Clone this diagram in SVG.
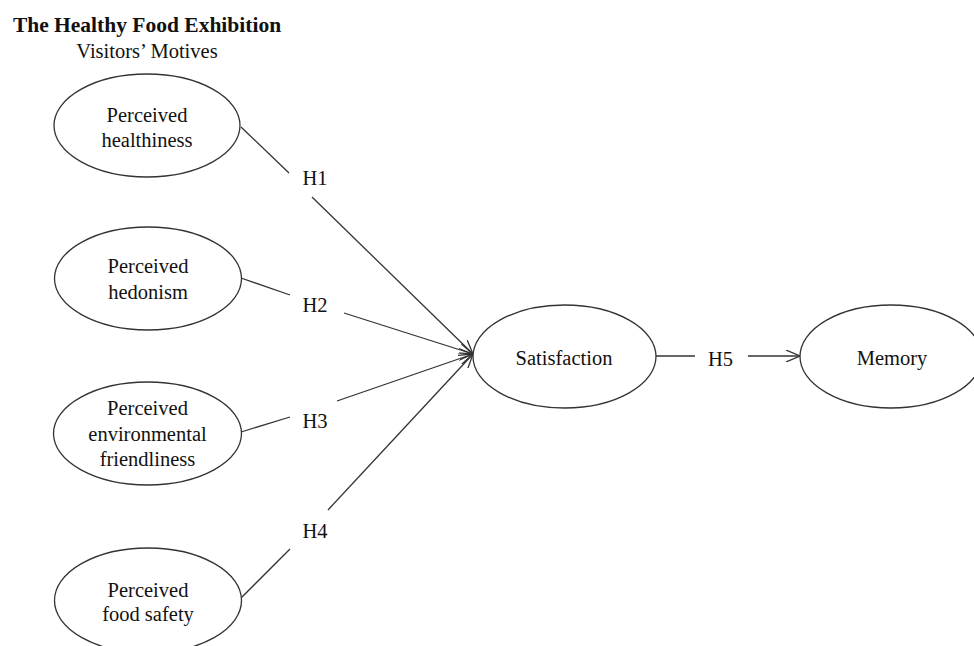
<svg xmlns="http://www.w3.org/2000/svg" width="974" height="646" viewBox="0 0 974 646">
<style>
text{font-family:"Liberation Serif","Times New Roman",serif;fill:#111;text-anchor:middle;font-size:20.5px}
.title{font-weight:bold;font-size:21.5px}
.node ellipse{fill:#fff;stroke:#333;stroke-width:1.3}
#connectors line{stroke:#333;stroke-width:1.3;fill:none}
</style>
<defs>
<marker id="arr" viewBox="0 0 14 12" refX="14" refY="6" markerWidth="14" markerHeight="12" markerUnits="userSpaceOnUse" orient="auto">
<path d="M0,0 L14,6 L0,12" fill="none" stroke="#333" stroke-width="1.3"/>
</marker>
</defs>
<rect width="974" height="646" fill="#fff"/>
<g id="title">
<text class="title" x="147" y="32">The Healthy Food Exhibition</text>
<text x="147" y="58">Visitors’ Motives</text>
</g>
<g id="connectors">
<line x1="241" y1="127" x2="289" y2="173"/>
<line x1="312" y1="197" x2="473" y2="354" marker-end="url(#arr)"/>
<line x1="241" y1="278" x2="290" y2="295"/>
<line x1="344" y1="313" x2="473" y2="354" marker-end="url(#arr)"/>
<line x1="241" y1="432" x2="290" y2="417"/>
<line x1="337" y1="401" x2="473" y2="354" marker-end="url(#arr)"/>
<line x1="241" y1="598" x2="290" y2="549"/>
<line x1="328" y1="510" x2="473" y2="354" marker-end="url(#arr)"/>
<line x1="656" y1="356" x2="695" y2="356"/>
<line x1="748" y1="356" x2="800" y2="356" marker-end="url(#arr)"/>
<text x="315" y="185">H1</text>
<text x="315" y="312">H2</text>
<text x="315" y="428">H3</text>
<text x="315" y="538">H4</text>
<text x="720.5" y="366">H5</text>
</g>
<g id="healthiness" class="node">
<ellipse cx="147" cy="125.5" rx="93" ry="51.5"/>
<text x="147" y="122">Perceived</text>
<text x="147" y="147">healthiness</text>
</g>
<g id="hedonism" class="node">
<ellipse cx="148" cy="278.5" rx="93.5" ry="51.5"/>
<text x="148" y="273">Perceived</text>
<text x="148" y="299">hedonism</text>
</g>
<g id="environmental" class="node">
<ellipse cx="147.5" cy="433.5" rx="94" ry="51.5"/>
<text x="147.5" y="415">Perceived</text>
<text x="147.5" y="441">environmental</text>
<text x="147.5" y="466">friendliness</text>
</g>
<g id="foodsafety" class="node">
<ellipse cx="148" cy="600.5" rx="93.5" ry="52.5"/>
<text x="148" y="597">Perceived</text>
<text x="148" y="621">food safety</text>
</g>
<g id="satisfaction" class="node">
<ellipse cx="564.5" cy="356.5" rx="91.5" ry="51.5"/>
<text x="564" y="365">Satisfaction</text>
</g>
<g id="memory" class="node">
<ellipse cx="891" cy="356.5" rx="91" ry="51.5"/>
<text x="892" y="365">Memory</text>
</g>
</svg>
